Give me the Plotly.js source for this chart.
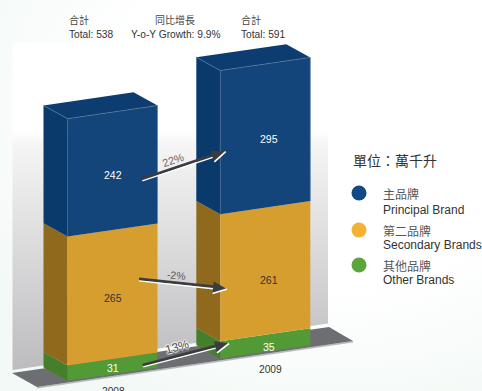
<!DOCTYPE html>
<html>
<head>
<meta charset="utf-8">
<script src="https://cdn.plot.ly/plotly-3.0.1.min.js"></script>
<style>
  html, body { margin: 0; padding: 0; width: 482px; height: 391px; overflow: hidden; }
  body {
    background:
      radial-gradient(ellipse 400px 320px at 330px 110px, #ffffff 55%, rgba(255,255,255,0) 100%),
      #f3f9f6;
  }
  #chart { width: 482px; height: 391px; }
</style>
</head>
<body>
<div id="chart"></div>
<script>
// Beer volume by brand tier, 2008 vs 2009 (unit: 10,000 kl)
const years = ['2008', '2009'];
const principal = [242, 295];
const secondary = [265, 261];
const other = [31, 35];
const growthLabels = ['22%', '-2%', '13%'];
const yoyGrowth = '9.9%';
const legendCn = ['主品牌', '第二品牌', '其他品牌'];
const legendEn = ['Principal Brand', 'Secondary Brands', 'Other Brands'];
const unitLabel = '單位：萬千升';

// Oblique projection of the stacked columns
const W = 482, H = 391;
const SCALE = 0.487;        // pixels per unit
const BASE_Y = 380.7;       // screen y of value 0 at BASE_X
const BASE_X = 67.5;
const SHEAR = 0.146;        // floor rises to the right
const DEPTH_X = 24, DEPTH_Y = 13.3;
const barLeft = [67.5, 220.3];
const barWidth = 90;

const CN = '"Noto Sans CJK TC", "Liberation Sans", sans-serif';
const LAT = '"Liberation Sans", Arial, sans-serif';

const sy = py => (BASE_Y - py) / SCALE;                   // screen y to axis value
const vy = (x, v, d) => v + (SHEAR * (x - BASE_X) + d * DEPTH_Y) / SCALE;
const vx = (x, d) => x - d * DEPTH_X;

function poly(xs, ys, color, extra) {
  return Object.assign({
    type: 'scatter', mode: 'lines', x: xs.concat(xs[0]), y: ys.concat(ys[0]),
    fill: 'toself', fillcolor: color, line: { width: 0, color: color },
    hoverinfo: 'skip', showlegend: false
  }, extra || {});
}
function path(xs, ys, color, width, dash) {
  return { type: 'scatter', mode: 'lines', x: xs, y: ys,
    line: { width: width, color: color, dash: dash || 'solid' },
    hoverinfo: 'skip', showlegend: false };
}

const traces = [];

// back wall with its fade towards white
const wallTop = 43, wallL = 12.5, wallR = 328;
traces.push(poly([wallL, wallR, wallR, wallL],
  [sy(wallTop), sy(wallTop), sy(323.5), sy(370)], '#ffffff', {
    fillgradient: { type: 'vertical', start: sy(wallTop), stop: sy(370),
      colorscale: [[0, '#ffffff'], [0.27, '#ffffff'], [0.31, '#f5f5f5'], [1, '#bcbcbf']] }
  }));

// floor slab
const floorX = [12, 37, 353, 329];
const floorY = [373, 387, 341, 327];
traces.push(poly([37, 353, 353, 37], [sy(387), sy(341), sy(342.5), sy(388.6)], '#b9babc'));
traces.push(poly(floorX, floorY.map(sy), '#6d6e72'));

// stacked columns
const faces = [
  { values: other,     front: '#529a35', side: '#467f2c' },
  { values: secondary, front: '#d69e2e', side: '#8f6a1c' },
  { values: principal, front: '#13447a', side: '#0a3a6b' }
];
years.forEach((yr, i) => {
  const xl = barLeft[i], xr = xl + barWidth;
  let low = 0;
  faces.forEach(f => {
    const high = low + f.values[i];
    traces.push(poly([xl, xl, vx(xl, 1), vx(xl, 1)],
      [vy(xl, low, 0), vy(xl, high, 0), vy(xl, high, 1), vy(xl, low, 1)], f.side));
    traces.push(poly([xl, xr, xr, xl],
      [vy(xl, low, 0), vy(xr, low, 0), vy(xr, high, 0), vy(xl, high, 0)], f.front));
    low = high;
  });
  const total = low;
  traces.push(poly([xl, xr, vx(xr, 1), vx(xl, 1)],
    [vy(xl, total, 0), vy(xr, total, 0), vy(xr, total, 1), vy(xl, total, 1)], '#0d3d70'));
  // thin highlights along the blue block's edges
  const blueLow = total - principal[i];
  traces.push(path([vx(xl, 1), xl, xr], [vy(xl, total, 1), vy(xl, total, 0), vy(xr, total, 0)], '#52769e', 0.7));
  traces.push(path([xl, xl], [vy(xl, total, 0), vy(xl, blueLow, 0)], '#3f6690', 0.7));
  traces.push(path([xr, xr], [vy(xr, total, 0), vy(xr, blueLow, 0)], '#5f84ab', 0.7));
});

// growth arrows: dark shaft and head with a white lower edge
function arrow(x0, y0, x1, y1) {
  const len = Math.hypot(x1 - x0, y1 - y0);
  const ux = (x1 - x0) / len, uy = (y1 - y0) / len;
  let nx = -uy, ny = ux;
  if (ny < 0) { nx = -nx; ny = -ny; }         // n points down the screen
  const L = 14, Hw = 6;
  const bx = x1 - L * ux, by = y1 - L * uy;
  traces.push(path([x0 - nx, bx - nx], [y0 - ny, by - ny].map(sy), '#3b3c40', 2.8));
  traces.push(path([x0 + nx * 0.8, bx + nx * 1.2], [y0 + ny * 0.8, by + ny * 1.2].map(sy), '#ffffff', 1.3));
  traces.push(poly([x1, bx - nx * Hw, bx + nx * Hw], [y1, by - ny * Hw, by + ny * Hw].map(sy), '#3b3c40'));
  traces.push(path([x1, bx + nx * Hw], [y1, by + ny * Hw].map(sy), '#ffffff', 1.6));
}
arrow(142, 180, 225.7, 151.7);
arrow(139, 280, 227, 289);
arrow(143, 366, 229, 343.5);

// legend dots
const dotColors = ['#124a85', '#f4b133', '#5aa63a'];
const dotY = [193, 230, 265];
traces.push({
  type: 'scatter', mode: 'markers', x: [359, 359, 359], y: dotY.map(sy),
  marker: { size: 15, color: dotColors }, hoverinfo: 'skip', showlegend: false
});

// annotations
const annotations = [];
function label(text, x, py, opts) {
  annotations.push(Object.assign({
    text: text, x: x, y: sy(py), xref: 'x', yref: 'y', showarrow: false,
    xanchor: 'left', yanchor: 'middle', borderpad: 0,
    font: { family: LAT, size: 10.2, color: '#333333' }
  }, opts || {}));
}

const totals = years.map((_, i) => principal[i] + secondary[i] + other[i]);
const headX = [68, 240];
totals.forEach((t, i) => {
  label('合計', headX[i], 19, { font: { family: CN, size: 10, color: '#444444' } });
  label('Total: ' + t, headX[i], 34);
});
label('同比增長', 175, 19, { xanchor: 'center', font: { family: CN, size: 10, color: '#444444' } });
label('Y-o-Y Growth: ' + yoyGrowth, 175.5, 34, { xanchor: 'center' });

// value labels sit a little below each block's centre
const labelShift = [[3.5, 3.5, 1.5], [3.8, 9.4, 4.6]];
const labelX = [112.5, 269.3];
years.forEach((yr, i) => {
  const b0 = other[i], b1 = b0 + secondary[i], b2 = b1 + principal[i];
  const mids = [(b1 + b2) / 2, (b0 + b1) / 2, b0 / 2];
  const vals = [principal[i], secondary[i], other[i]];
  const cols = ['#ffffff', '#333333', '#ffffff'];
  mids.forEach((m, k) => {
    annotations.push({
      text: String(vals[k]), x: labelX[i], y: vy(labelX[i], m, 0), yshift: -labelShift[i][k],
      xref: 'x', yref: 'y', showarrow: false, xanchor: 'center', yanchor: 'middle',
      font: { family: LAT, size: 10.5, color: cols[k] }
    });
  });
});
label(years[0], 113, 391, { xanchor: 'center' });
label(years[1], 270, 369.5, { xanchor: 'center' });

// growth percentages
label(growthLabels[0], 173, 160, { xanchor: 'center', textangle: -19, font: { family: LAT, size: 11, color: '#666666' } });
label(growthLabels[1], 176, 275, { xanchor: 'center', textangle: 6, font: { family: LAT, size: 10.5, color: '#555555' } });
label(growthLabels[2], 177, 347, { xanchor: 'center', textangle: -15, font: { family: LAT, size: 12, color: '#4a4a4a',
  shadow: '1px 0 1px #fff, -1px 0 1px #fff, 0 1px 1px #fff, 0 -1px 1px #fff' } });

// legend text
label(unitLabel, 352, 160, { font: { family: CN, size: 14, color: '#333333' } });
const cnY = [193, 230, 265], enY = [210, 245, 280];
legendCn.forEach((t, i) => {
  label(t, 382, cnY[i], { font: { family: CN, size: 12, color: '#555555' } });
  label(legendEn[i], 382, enY[i], { font: { family: LAT, size: 12, color: '#333333' } });
});

const layout = {
  width: W, height: H,
  margin: { l: 0, r: 0, t: 0, b: 0 },
  paper_bgcolor: 'rgba(0,0,0,0)', plot_bgcolor: 'rgba(0,0,0,0)',
  xaxis: { range: [0, W], visible: false, fixedrange: true },
  yaxis: { range: [sy(H), sy(0)], visible: false, fixedrange: true },
  showlegend: false,
  annotations: annotations
};
Plotly.newPlot('chart', traces, layout, { displayModeBar: false, staticPlot: true });
</script>
</body>
</html>
